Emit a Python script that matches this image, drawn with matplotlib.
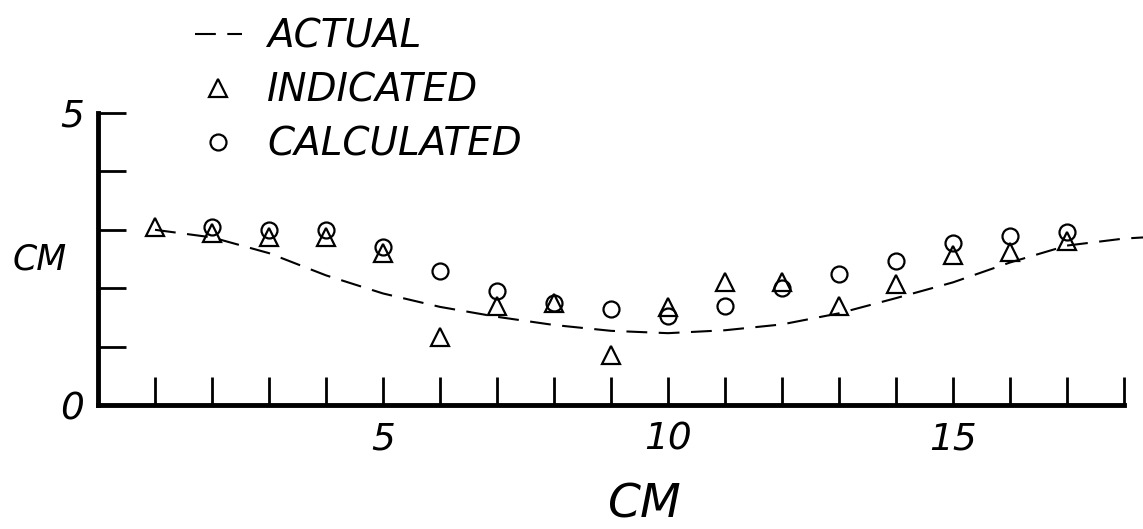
import matplotlib.pyplot as plt

# values (CM vs CM)
actual_x = [1, 2, 3, 4, 5, 6, 7, 8, 9, 10, 11, 12, 13, 14, 15, 16, 17, 18, 18.35]
actual_y = [3.0, 2.87, 2.6, 2.22, 1.91, 1.68, 1.51, 1.37, 1.27, 1.23, 1.28, 1.38,
            1.57, 1.83, 2.10, 2.44, 2.73, 2.85, 2.87]

indicated_x = [1, 2, 3, 4, 5, 6, 7, 8, 9, 10, 11, 12, 13, 14, 15, 16, 17]
indicated_y = [3.05, 2.94, 2.87, 2.87, 2.60, 1.16, 1.69, 1.74, 0.85, 1.67, 2.10,
               2.10, 1.69, 2.08, 2.56, 2.62, 2.80]

calculated_x = [2, 3, 4, 5, 6, 7, 8, 9, 10, 11, 12, 13, 14, 15, 16, 17]
calculated_y = [3.04, 3.00, 2.99, 2.70, 2.29, 1.95, 1.74, 1.64, 1.52, 1.69, 2.00,
                2.24, 2.46, 2.78, 2.89, 2.96]

x_ticks = list(range(1, 19))
x_tick_labels = ['', '', '', '', '5', '', '', '', '', '10', '', '', '', '', '15', '', '', '']
y_ticks = [0, 1, 2, 3, 4, 5]
y_tick_labels = ['0', '', '', '', '', '5']

font = {'family': 'DejaVu Sans', 'style': 'italic'}

fig = plt.figure(figsize=(11.43, 5.29), dpi=100)
ax = fig.add_axes([98 / 1143, 1 - 405 / 529, 1026 / 1143, 292 / 529])

ax.plot(actual_x, actual_y, color='black', lw=1.5, dashes=(10, 5.5),
        clip_on=False, label='ACTUAL')
ax.plot(indicated_x, indicated_y, linestyle='none', marker='^', ms=13,
        mfc='none', mec='black', mew=1.6, clip_on=False, label='INDICATED')
ax.plot(calculated_x, calculated_y, linestyle='none', marker='o', ms=11.5,
        mfc='none', mec='black', mew=1.6, clip_on=False, label='CALCULATED')

ax.set_xlim(0, 18)
ax.set_ylim(0, 5)

for side in ['top', 'right']:
    ax.spines[side].set_visible(False)
for side in ['left', 'bottom']:
    ax.spines[side].set_linewidth(3.5)
    ax.spines[side].set_capstyle('projecting')

ax.set_xticks(x_ticks)
ax.set_xticklabels(x_tick_labels, fontdict=font, fontsize=27)
ax.set_yticks(y_ticks)
ax.set_yticklabels(y_tick_labels, fontdict=font, fontsize=27)
ax.tick_params(axis='x', direction='in', length=20, width=2, pad=12)
ax.tick_params(axis='y', direction='in', length=20, width=2, pad=10)

fig.text(40 / 1143, 1 - 260 / 529, 'CM', ha='center', va='center',
         fontsize=25, **font)
fig.text(644 / 1143, 1 - 505 / 529, 'CM', ha='center', va='center',
         fontsize=34, **font)

leg = ax.legend(loc='upper left', bbox_to_anchor=(195 / 1143, 1 - 18 / 529),
                bbox_transform=fig.transFigure, frameon=False,
                prop={'family': 'DejaVu Sans', 'style': 'italic', 'size': 28},
                handlelength=1.2, handletextpad=0.65, labelspacing=0.41,
                borderpad=0, borderaxespad=0, markerscale=1.0)

fig.savefig('out.png', dpi=100)
